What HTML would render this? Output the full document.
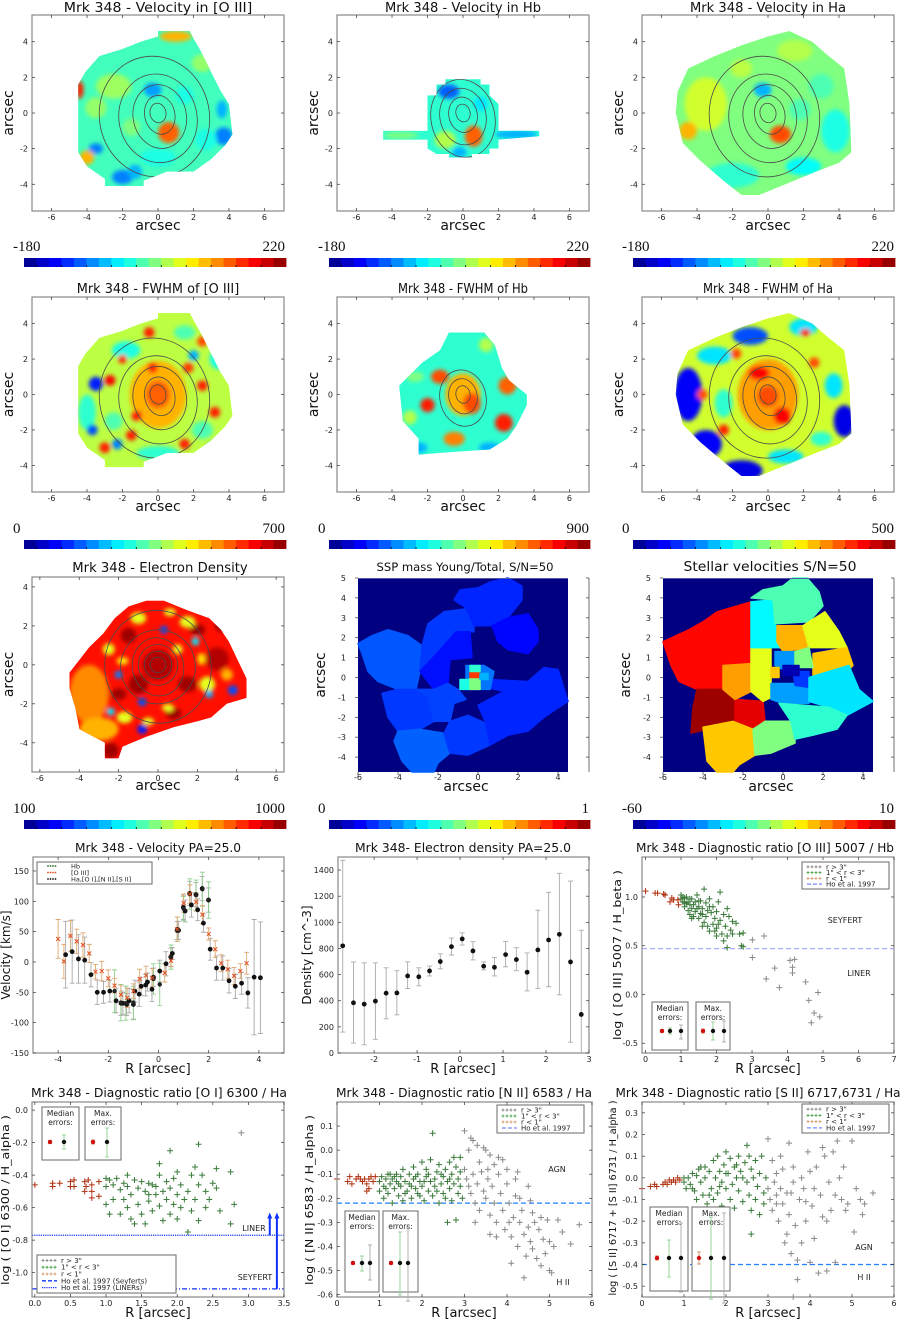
<!DOCTYPE html>
<html><head><meta charset="utf-8">
<style>
html,body{margin:0;padding:0;background:#fff;}
svg{display:block;font-family:"DejaVu Sans","Liberation Sans",sans-serif;}
</style></head>
<body>
<svg id="fig" width="902" height="1319" viewBox="0 0 902 1319" xmlns="http://www.w3.org/2000/svg">
<defs id="defs">
<filter id="blur" x="-20%" y="-20%" width="140%" height="140%"><feGaussianBlur stdDeviation="2.2"/></filter>
</defs>
</svg>
<script>
// ---------------- DATA ----------------
const velR=[-3.7,-3.44,-3.19,-2.94,-2.69,-2.44,-2.19,-1.94,-1.69,-1.49,-1.42,-1.27,-1.17,-1.0,-0.94,-0.77,-0.69,-0.51,-0.44,-0.26,-0.2,0.05,0.3,0.49,0.55,0.74,0.8,0.99,1.06,1.24,1.31,1.49,1.56,1.74,1.79,1.99,2.06,2.31,2.56,2.81,3.06,3.31,3.56,3.81,4.06];
const velV=[12,17,5,3,-21,-50,-50,-48,-64,-68,-68,-70,-64,-70,-48,-53,-40,-38,-33,-45,-25,-15,-3,8,14,52,52,90,84,113,94,111,86,121,64,102,21,-10,-10,-31,-40,-35,-51,-25,-26];
const velE=[55,52,40,38,20,20,18,18,20,20,18,18,20,25,18,20,15,18,15,20,15,18,20,15,10,15,15,20,18,20,20,20,18,20,15,20,18,20,20,20,20,18,25,95,92];
const hbR=[-1.75,-1.5,-1.3,-1.0,-0.2,0.05,0.5,0.75,1.0,1.25,1.5,1.75,2.0];
const hbV=[-48,-67,-68,-67,-28,-37,8,54,88,112,110,120,102];
const hbE=[35,30,28,27,25,35,20,20,20,25,25,28,30];
const o3R=[-4.0,-3.77,-3.51,-3.26,-3.01,-2.76,-2.51,-2.26,-2.0,-1.75,-1.5,-1.25,-1.0,-0.75,-0.5,-0.25,0.25,0.5,0.75,1.0,1.25,1.5,1.75,2.0,2.26,2.5,2.76,3.01,3.26,3.51];
const o3V=[38,1,43,34,28,14,-16,-15,-27,-39,-54,-59,-48,-28,-22,-26,-18,2,54,97,112,99,78,46,21,-2,-12,-23,-15,-2];
const o3E=[32,28,25,20,20,15,12,16,14,12,16,16,12,16,15,15,15,10,20,15,15,15,15,10,14,14,15,14,12,18];
const denR=[-2.73,-2.48,-2.23,-1.97,-1.72,-1.47,-1.22,-0.96,-0.71,-0.46,-0.2,0.05,0.3,0.55,0.8,1.06,1.31,1.56,1.81,2.06,2.31,2.57,2.82];
const denV=[820,384,374,397,458,460,590,583,628,700,814,873,781,664,656,753,715,618,789,865,908,697,295];
const denHi=[1475,697,690,690,652,630,698,652,665,758,880,920,852,697,730,853,806,766,1093,1230,1375,1316,940];
const denLo=[160,76,63,105,262,292,493,514,590,644,750,826,712,636,590,660,630,475,494,507,445,83,0];
const o3hbIn=[[0,1.06],[0.27,1.04],[0.34,1.04],[0.51,1.03],[0.55,1.02],[0.74,0.99],[0.79,0.97],[0.91,0.97],[0.93,0.92],[0.69,0.95]];
const o3hbMid=[[1.0,1.02],[1.0,0.98],[1.05,0.95],[1.1,0.9],[1.1,0.99],[1.15,1.0],[1.2,0.95],[1.2,0.86],[1.25,0.82],[1.25,0.92],[1.3,0.98],[1.3,0.88],[1.35,0.8],[1.4,0.95],[1.4,0.85],[1.45,1.02],[1.5,0.9],[1.5,0.78],[1.55,0.96],[1.55,0.83],[1.6,0.88],[1.6,0.7],[1.65,0.74],[1.65,1.08],[1.7,0.94],[1.7,0.8],[1.75,0.86],[1.8,0.65],[1.8,0.98],[1.85,0.84],[1.9,0.72],[1.9,0.9],[1.95,0.78],[2.0,0.6],[2.0,0.85],[2.0,0.68],[2.05,0.95],[2.1,0.76],[2.1,1.05],[2.15,0.62],[2.2,0.82],[2.2,0.55],[2.25,0.7],[2.3,0.88],[2.3,0.6],[2.35,0.8],[2.4,0.66],[2.45,0.75],[2.45,0.62],[2.55,0.73],[2.65,0.62],[2.7,0.5],[2.75,0.63],[2.3,0.48],[2.75,0.49],[1.1,0.94],[1.35,0.92],[1.05,1.0],[1.15,0.93],[1.45,0.88],[1.25,0.98],[1.8,0.9],[1.6,0.82],[1.3,0.78],[1.75,0.7],[1.95,0.65],[2.05,0.72],[1.5,0.96]];
const o3hbOut=[[3.01,0.56],[3.34,0.6],[3.01,0.38],[3.64,0.27],[3.4,0.16],[3.77,0.07],[4.07,0.35],[4.2,0.36],[4.14,0.28],[4.14,0.22],[4.51,0.13],[4.6,-0.06],[4.86,0.02],[4.75,-0.19],[4.67,-0.29],[4.91,-0.23]];
const o3hbHo=[0.47];
const o1In=[[0,-0.46],[0.25,-0.45],[0.35,-0.45],[0.5,-0.44],[0.55,-0.43],[0.5,-0.47],[0.55,-0.47],[0.7,-0.44],[0.72,-0.47],[0.75,-0.43],[0.8,-0.46],[0.8,-0.5],[0.8,-0.54],[0.9,-0.44],[0.9,-0.53],[0.7,-0.5],[0.25,-0.47]];
const o1Mid=[[1.0,-0.42],[1.0,-0.47],[1.0,-0.58],[1.05,-0.43],[1.05,-0.64],[1.1,-0.46],[1.15,-0.42],[1.2,-0.49],[1.2,-0.64],[1.25,-0.45],[1.25,-0.55],[1.3,-0.47],[1.3,-0.6],[1.35,-0.52],[1.35,-0.67],[1.4,-0.43],[1.4,-0.7],[1.45,-0.48],[1.45,-0.58],[1.5,-0.44],[1.5,-0.64],[1.55,-0.5],[1.55,-0.7],[1.6,-0.45],[1.6,-0.56],[1.65,-0.62],[1.7,-0.47],[1.7,-0.52],[1.75,-0.59],[1.75,-0.4],[1.75,-0.33],[1.8,-0.5],[1.8,-0.68],[1.85,-0.55],[1.85,-0.44],[1.9,-0.25],[1.9,-0.48],[1.9,-0.64],[1.95,-0.58],[1.95,-0.42],[2.0,-0.52],[2.0,-0.38],[2.05,-0.6],[2.05,-0.46],[2.1,-0.55],[2.15,-0.5],[2.15,-0.75],[2.2,-0.4],[2.2,-0.62],[2.25,-0.35],[2.25,-0.55],[2.3,-0.21],[2.3,-0.46],[2.3,-0.68],[2.35,-0.4],[2.4,-0.5],[2.4,-0.6],[2.5,-0.45],[2.55,-0.36],[2.55,-0.48],[2.6,-0.62],[2.75,-0.38],[2.75,-0.7],[2.8,-0.58],[1.1,-0.55],[1.6,-0.52],[2.0,-0.67],[1.3,-0.4],[1.65,-0.46],[2.45,-0.55]];
const o1Out=[[2.9,-0.14]];
const o1Liner=[-0.77];
const o1Seyf=[-1.1];
const n2In=[[0,-0.12],[0.25,-0.13],[0.3,-0.11],[0.35,-0.14],[0.45,-0.12],[0.5,-0.11],[0.55,-0.12],[0.6,-0.13],[0.65,-0.12],[0.7,-0.14],[0.75,-0.12],[0.75,-0.16],[0.8,-0.11],[0.85,-0.13],[0.9,-0.11],[0.7,-0.17]];
const n2Mid=[[1.0,-0.13],[1.0,-0.17],[1.05,-0.11],[1.1,-0.15],[1.1,-0.2],[1.15,-0.12],[1.2,-0.18],[1.2,-0.1],[1.25,-0.14],[1.3,-0.12],[1.3,-0.22],[1.35,-0.16],[1.4,-0.1],[1.4,-0.13],[1.45,-0.19],[1.5,-0.11],[1.5,-0.15],[1.55,-0.08],[1.55,-0.21],[1.6,-0.13],[1.65,-0.17],[1.7,-0.1],[1.7,-0.14],[1.75,-0.2],[1.8,-0.12],[1.8,-0.07],[1.85,-0.16],[1.9,-0.1],[1.9,-0.18],[1.95,-0.13],[2.0,-0.05],[2.0,-0.15],[2.05,-0.21],[2.1,-0.11],[2.1,-0.08],[2.15,-0.17],[2.2,-0.13],[2.2,-0.04],[2.25,0.07],[2.25,-0.19],[2.3,-0.12],[2.3,-0.15],[2.35,-0.09],[2.4,-0.22],[2.4,-0.06],[2.45,-0.14],[2.5,-0.11],[2.5,-0.18],[2.55,-0.08],[2.55,-0.2],[2.6,-0.13],[2.6,-0.3],[2.65,-0.05],[2.65,-0.16],[2.7,-0.1],[2.7,-0.21],[2.75,-0.03],[2.75,-0.14],[2.8,-0.29],[2.8,-0.07],[2.85,-0.12],[2.85,-0.18],[2.9,-0.09],[2.9,-0.15],[2.95,-0.2],[1.15,-0.16],[1.35,-0.11],[1.6,-0.18],[1.85,-0.11],[2.05,-0.13],[2.35,-0.17],[2.45,-0.1],[1.25,-0.1],[1.45,-0.14],[1.75,-0.15],[1.95,-0.19],[2.15,-0.1],[2.65,-0.12],[2.9,-0.03]];
const n2Out=[[3.0,0.08],[3.1,0.0],[3.15,0.05],[3.2,0.04],[3.3,0.02],[3.5,0.0],[3.6,-0.02],[3.0,-0.08],[3.05,-0.12],[3.1,-0.15],[3.15,-0.18],[3.2,-0.1],[3.25,-0.22],[3.3,-0.14],[3.35,-0.25],[3.4,-0.09],[3.45,-0.17],[3.5,-0.2],[3.55,-0.12],[3.6,-0.27],[3.65,-0.15],[3.7,-0.06],[3.7,-0.22],[3.75,-0.3],[3.8,-0.1],[3.85,-0.18],[3.9,-0.25],[3.9,-0.04],[3.95,-0.33],[4.0,-0.14],[4.05,-0.22],[4.1,-0.36],[4.15,-0.28],[4.2,-0.19],[4.25,-0.4],[4.3,-0.3],[4.35,-0.25],[4.4,-0.35],[4.45,-0.44],[4.5,-0.32],[4.55,-0.38],[4.6,-0.41],[4.65,-0.3],[4.7,-0.45],[4.75,-0.33],[4.8,-0.48],[4.85,-0.37],[4.9,-0.43],[4.95,-0.29],[5.0,-0.38],[5.05,-0.51],[5.1,-0.4],[5.2,-0.29],[5.3,-0.34],[5.5,-0.39],[5.7,-0.31],[4.5,-0.15],[4.2,-0.12],[4.0,-0.08],[4.3,-0.2],[3.35,-0.05],[3.45,0.01],[3.55,-0.08],[3.8,-0.03],[3.6,-0.35],[4.1,-0.47],[4.6,-0.26],[4.4,-0.53],[4.8,-0.28],[5.0,-0.5],[4.25,-0.09],[4.55,-0.21],[3.25,-0.3],[3.75,-0.36],[4.05,-0.3]];
const n2Ho=[-0.22];
const s2In=[[0.0,-0.05],[0.2,-0.04],[0.3,-0.03],[0.35,-0.04],[0.5,-0.03],[0.55,-0.02],[0.65,-0.01],[0.7,-0.02],[0.75,-0.01],[0.8,-0.02],[0.85,0.0],[0.9,-0.01],[0.6,-0.03]];
const s2Mid=[[1.0,-0.02],[1.0,0.0],[1.05,-0.05],[1.1,0.0],[1.15,-0.03],[1.2,0.02],[1.25,-0.06],[1.3,0.01],[1.3,-0.1],[1.35,0.04],[1.4,-0.02],[1.45,-0.08],[1.5,0.05],[1.5,0.0],[1.55,-0.12],[1.6,0.03],[1.65,-0.05],[1.7,0.08],[1.7,-0.1],[1.75,0.0],[1.8,-0.07],[1.8,0.1],[1.85,0.03],[1.9,-0.13],[1.9,-0.02],[1.95,0.06],[2.0,0.12],[2.0,-0.05],[2.05,0.02],[2.1,-0.1],[2.1,0.09],[2.15,-0.03],[2.2,0.05],[2.2,-0.14],[2.25,0.0],[2.3,0.1],[2.3,-0.06],[2.35,0.03],[2.4,-0.11],[2.45,0.07],[2.5,0.15],[2.5,-0.02],[2.55,-0.08],[2.6,0.04],[2.6,-0.15],[2.65,0.0],[2.7,0.08],[2.7,-0.1],[2.75,-0.04],[2.8,0.02],[2.8,-0.17],[2.85,0.1],[2.9,-0.07],[2.9,-0.12],[2.95,0.0],[2.6,-0.26],[1.4,0.05],[1.6,-0.08],[2.0,0.02],[2.4,0.0],[1.2,-0.05],[1.85,-0.04],[2.25,0.06],[2.55,0.1]];
const s2Out=[[3.0,0.18],[3.1,0.08],[3.2,0.02],[3.3,0.1],[3.5,0.16],[3.6,0.05],[3.0,-0.05],[3.05,-0.1],[3.1,-0.15],[3.15,-0.02],[3.2,-0.08],[3.25,-0.2],[3.3,-0.05],[3.35,-0.12],[3.4,-0.3],[3.45,-0.07],[3.5,-0.17],[3.55,-0.35],[3.6,-0.02],[3.65,-0.22],[3.7,-0.47],[3.75,-0.1],[3.8,-0.3],[3.85,-0.05],[3.9,-0.2],[3.95,0.12],[4.0,-0.39],[4.05,-0.13],[4.1,-0.28],[4.15,0.05],[4.2,-0.44],[4.25,-0.08],[4.3,-0.18],[4.35,0.1],[4.4,-0.43],[4.45,-0.02],[4.5,-0.15],[4.55,0.12],[4.6,-0.39],[4.65,0.17],[4.7,0.0],[4.75,-0.1],[4.8,0.05],[4.9,-0.12],[5.0,0.17],[5.05,-0.25],[5.1,-0.05],[5.2,-0.1],[5.3,-0.12],[5.5,-0.07],[3.6,-0.55],[3.7,-0.38],[4.0,0.03],[4.3,0.14],[3.35,0.04],[3.9,-0.11],[4.1,-0.05],[4.6,-0.08],[4.85,-0.15],[3.45,-0.26],[3.2,-0.12],[3.8,0.0],[4.4,-0.2],[5.25,-0.17],[3.55,-0.07]];
const s2Ho=[-0.4];

// ---------------- HELPERS ----------------
const NS='http://www.w3.org/2000/svg';
const svg=document.getElementById('fig');
const defs=document.getElementById('defs');
function el(tag,attrs,parent,name,inter){
  const e=document.createElementNS(NS,tag);
  for(const k in attrs)e.setAttribute(k,attrs[k]);
  
  
  (parent||svg).appendChild(e);return e;
}
function txt(s,x,y,attrs,parent,name){const t=el('text',Object.assign({x:x,y:y},attrs||{}),parent,name,false);t.textContent=s;return t;}
function lin(d0,d1,r0,r1){return v=>r0+(v-d0)/(d1-d0)*(r1-r0);}
function cl(v){return Math.max(0,Math.min(1,v));}
function jet(t){const r=cl(1.5-Math.abs(4*t-3)),g=cl(1.5-Math.abs(4*t-2)),b=cl(1.5-Math.abs(4*t-1));
  return 'rgb('+Math.round(r*255)+','+Math.round(g*255)+','+Math.round(b*255)+')';}
function range(a,b,s){const o=[];for(let v=a;v<=b+1e-9;v+=s)o.push(+v.toFixed(6));return o;}

function makeAxes(name,box,xd,yd){
  const [L,T,R,B]=box;
  const g=el('g',{},svg,name,false);
  return {g:g,box:box,sx:lin(xd[0],xd[1],L,R),sy:lin(yd[0],yd[1],B,T)};
}
function frame(ax,xt,yt,dx,dy,opt){
  opt=opt||{};
  const [L,T,R,B]=ax.box;
  el('rect',{x:L,y:T,width:R-L,height:B-T,fill:'none',stroke:'#888','stroke-width':1.2},ax.g,'plot-frame',false);
  xt.forEach(v=>{const x=ax.sx(v);
    el('line',{x1:x,y1:B,x2:x,y2:B-3,stroke:'#333','stroke-width':0.7},ax.g,'x-tick',false);
    el('line',{x1:x,y1:T,x2:x,y2:T+3,stroke:'#333','stroke-width':0.7},ax.g,'x-tick',false);
    txt(v.toFixed(dx),x,B+9,{'font-size':8,'text-anchor':'middle',fill:'#222'},ax.g,'x-tick-label');});
  yt.forEach(v=>{const y=ax.sy(v);
    el('line',{x1:L,y1:y,x2:L+3,y2:y,stroke:'#333','stroke-width':0.7},ax.g,'y-tick',false);
    el('line',{x1:R,y1:y,x2:R-3,y2:y,stroke:'#333','stroke-width':0.7},ax.g,'y-tick',false);
    txt(v.toFixed(dy),L-4,y+3,{'font-size':8,'text-anchor':'end',fill:'#222'},ax.g,'y-tick-label');});
}
function title(s,cx,y,w,fs,name){txt(s,cx,y,{'font-size':fs,'text-anchor':'middle',fill:'#111',textLength:w,lengthAdjust:'spacingAndGlyphs'},svg,name);}
function ylab(s,x,cy,fs,name,w){const t=txt(s,x,cy,{'font-size':fs,'text-anchor':'middle',fill:'#111',transform:'rotate(-90 '+x+' '+cy+')'},svg,name);if(w){t.setAttribute('textLength',w);t.setAttribute('lengthAdjust','spacingAndGlyphs');}}
function xlab(s,cx,y,fs,name){txt(s,cx,y,{'font-size':fs,'text-anchor':'middle',fill:'#111'},svg,name);}
function colorbar(x0,x1,y,lo,hi,name){
  const g=el('g',{},svg,name,false);
  const n=21,w=(x1-x0)/n;
  for(let i=0;i<n;i++){
    el('rect',{x:x0+i*w,y:y,width:w+0.4,height:9,fill:jet((i+0.5)/n)},g,'colorbar-swatch',false);
    if(i%2==1)el('line',{x1:x0+i*w,y1:y+9,x2:x0+i*w,y2:y+7,stroke:'#000','stroke-width':0.8},g,'colorbar-tick',false);
  }
  txt(lo,x0-11,y-7,{'font-size':15,'font-family':'"Liberation Serif",serif',fill:'#111'},g,'colorbar-min-label');
  txt(hi,x1-1,y-7,{'font-size':15,'font-family':'"Liberation Serif",serif','text-anchor':'end',fill:'#111'},g,'colorbar-max-label');
}
let clipN=0;
function pathOf(ax,pts){return 'M'+pts.map(p=>ax.sx(p[0]).toFixed(1)+','+ax.sy(p[1]).toFixed(1)).join('L')+'Z';}
function contMap(ax,foot,base,blobs,conts,name){
  const id='clip'+(clipN++);
  const cp=el('clipPath',{id:id},defs,'clip-'+name,false);
  el('path',{d:pathOf(ax,foot)},cp,'clip-shape',false);
  const g=el('g',{'clip-path':'url(#'+id+')'},ax.g,name,false);
  el('path',{d:pathOf(ax,foot),fill:jet(base)},g,'map-footprint',false);
  const bg=el('g',{filter:'url(#blur)'},g,'map-blobs',false);
  const kx=Math.abs(ax.sx(1)-ax.sx(0)),ky=Math.abs(ax.sy(1)-ax.sy(0));
  blobs.forEach(b=>{el('ellipse',{cx:ax.sx(b[0]),cy:ax.sy(b[1]),rx:b[2]*kx,ry:b[3]*ky,fill:jet(b[4])},bg,'map-blob',false);});
  conts.forEach(c=>{const cx=ax.sx(c[0]),cy=ax.sy(c[1]);
    el('ellipse',{cx:cx,cy:cy,rx:c[2]*kx,ry:c[3]*ky,fill:'none',stroke:'#4a4a4a','stroke-width':0.8,transform:'rotate(-12 '+cx+' '+cy+')'},g,'flux-contour',false);});
}
function tileMap(ax,ext,tiles,name){
  const g=el('g',{},ax.g,name,false);
  el('rect',{x:ax.sx(ext[0]),y:ax.sy(ext[3]),width:ax.sx(ext[1])-ax.sx(ext[0]),height:ax.sy(ext[2])-ax.sy(ext[3]),fill:jet(0)},g,'map-background',false);
  tiles.forEach(t=>{el('path',{d:pathOf(ax,t[0]),fill:jet(t[1]),stroke:jet(t[1]),'stroke-width':1.5,'stroke-linejoin':'round'},g,'map-bin',false);});
}
function plus(ax,pts,col,name,sz){
  const g=el('g',{},ax.g,name,false);sz=sz||3;
  pts.forEach(p=>{const x=ax.sx(p[0]),y=ax.sy(p[1]);
    el('path',{d:'M'+(x-sz)+','+y+'h'+2*sz+'M'+x+','+(y-sz)+'v'+2*sz,stroke:col,'stroke-width':1},g,'data-point',false);});
}
function hline(ax,v,col,dash,name){
  const [L,T,R,B]=ax.box;const y=ax.sy(v);
  el('line',{x1:L,y1:y,x2:R,y2:y,stroke:col,'stroke-width':1.3,'stroke-dasharray':dash},ax.g,name,false);
}
function errBox(x0,y0,x1,y1,lab1,lab2,dotY,dots,name){
  const g=el('g',{},svg,name,false);
  el('rect',{x:x0,y:y0,width:x1-x0,height:y1-y0,fill:'#fff',stroke:'#777','stroke-width':1.1},g,'error-box-frame',false);
  txt(lab1,(x0+x1)/2,y0+9,{'font-size':7.5,'text-anchor':'middle',fill:'#222'},g,'error-box-label');
  txt(lab2,(x0+x1)/2,y0+18,{'font-size':7.5,'text-anchor':'middle',fill:'#222'},g,'error-box-label');
  dots.forEach(d=>{
    if(d[2]>0){el('line',{x1:d[0],y1:dotY-d[2],x2:d[0],y2:dotY+d[3],stroke:d[4],'stroke-width':0.9},g,'error-bar',false);
      el('line',{x1:d[0]-2,y1:dotY-d[2],x2:d[0]+2,y2:dotY-d[2],stroke:d[4],'stroke-width':0.9},g,'error-cap',false);
      el('line',{x1:d[0]-2,y1:dotY+d[3],x2:d[0]+2,y2:dotY+d[3],stroke:d[4],'stroke-width':0.9},g,'error-cap',false);}
    el('circle',{cx:d[0],cy:dotY,r:2.2,fill:d[1]},g,'error-dot',false);
  });
}
function legend(x0,y0,x1,y1,items,name){
  const g=el('g',{},svg,name,false);
  el('rect',{x:x0,y:y0,width:x1-x0,height:y1-y0,fill:'#fff',stroke:'#777','stroke-width':1.1},g,'legend-frame',false);
  const h=(y1-y0-4)/items.length;
  items.forEach((it,i)=>{const y=y0+2+h*(i+0.5);
    if(it[1]=='line'){el('line',{x1:x0+5,y1:y,x2:x0+20,y2:y,stroke:it[2],'stroke-width':1.3,'stroke-dasharray':it[3]},g,'legend-line',false);}
    else{for(let k=0;k<4;k++){const x=x0+6+k*4;el('path',{d:'M'+(x-1.5)+','+y+'h3M'+x+','+(y-1.5)+'v3',stroke:it[2],'stroke-width':0.8},g,'legend-marker',false);}}
    txt(it[0],x0+24,y+2.5,{'font-size':7,fill:'#222'},g,'legend-entry');
  });
}

// ---------------- ROWS 1-3: maps ----------------
const mapX=[-7.1,7.1],mapY=[-5.5,5.5];
const cols=[[32,284],[337,589],[642,894]];
const cbar=[[24,286],[329,590],[633,895]];
const tk6=range(-6,6,2),tk4=range(-4,4,2);
function mapPanel(ci,row,ttl,foot,base,blobs,conts,lo,hi,nm){
  const top=[15,297,577][row],bot=[211,492,772][row];
  const yd=row==2?[-5.5,4.51]:mapY, xd=row==2?[-6.4,6.4]:mapX;
  const ax=makeAxes(nm+'-axes',[cols[ci][0],top,cols[ci][1],bot],xd,yd);
  contMap(ax,foot,base,blobs,conts,nm+'-map');
  frame(ax,tk6,tk4,0,0);
  const cx=(cols[ci][0]+cols[ci][1])/2;
  title(ttl,cx+(row==2?2:0),[12,293,572][row],ttl.length*6.5,13,nm+'-title');
  xlab('arcsec',cx,[230,511,790][row],14,nm+'-x-axis-title');
  ylab('arcsec',cols[ci][0]-19,(top+bot)/2,14,nm+'-y-axis-title');
  colorbar(cbar[ci][0],cbar[ci][1],[258,540,820][row],lo,hi,nm+'-colorbar');
}
const footO3=[[-4.5,1.6],[-4.1,2.3],[-3.3,3.2],[-2,3.6],[-1,4],[0,4.3],[0,4.6],[1.8,4.6],[2,4.2],[2.4,3.5],[3,2.3],[3.5,1.3],[4,0.5],[4.2,-1.2],[3.8,-1.8],[3,-2.6],[2,-3.3],[0.5,-3.3],[-0.8,-3.8],[-0.8,-4.1],[-3,-4.1],[-3,-3.7],[-4,-3],[-4.5,-2.2],[-4.5,-1.2]];
const footHa=[[-5.1,1.2],[-4.5,2.5],[-3,3.2],[-1.5,3.8],[0,4.3],[1.2,4.6],[2.5,4],[3.3,3.3],[4.3,2.5],[4.6,0.5],[4.7,-2.2],[4,-2.8],[2.7,-3.3],[1,-4],[-0.5,-4.6],[-1.5,-4.6],[-2.5,-3.8],[-3.8,-2.7],[-4.8,-1.7],[-5.2,0]];
const footHb=[[-2,1],[-1.5,1],[-1.5,1.6],[-1,1.6],[-1,1.9],[1,1.9],[1,1.6],[1.5,1.6],[1.5,1],[2,0.5],[2,-1.0],[4.3,-1.0],[4.3,-1.3],[2,-1.5],[2,-2],[1.5,-2],[1.5,-2.3],[0.5,-2.3],[0.5,-2.5],[-0.8,-2.5],[-0.8,-2.3],[-1.5,-2.3],[-2,-2],[-2,-1.5],[-4.5,-1.5],[-4.5,-1.0],[-2,-1.0]];
const contStd=[[0,0,0.45,0.55],[0.1,-0.1,0.85,1.1],[0.1,-0.2,1.5,1.8],[0,-0.3,2.2,2.5],[-0.2,-0.2,3.1,3.4]];
mapPanel(0,0,'Mrk 348 - Velocity in [O III]',footO3,0.44,
 [[0.6,-1.1,0.6,0.6,0.78],[-0.3,1.3,0.5,0.4,0.28],[3.7,-1.3,0.5,0.5,0.25],[3.6,0.2,0.3,0.5,0.3],[-2,-3.6,0.6,0.4,0.25],[-3.5,-2,0.4,0.3,0.25],[1,4.3,0.9,0.3,0.7],[-4.4,1.3,0.2,0.5,0.85],[-2.5,1.5,1,0.7,0.53],[-4,-2.5,0.4,0.4,0.7],[0,-2.5,1,0.5,0.4],[-1.3,-3.3,0.4,0.4,0.3],[-3.5,0.3,0.6,0.6,0.52],[2.5,2.8,0.6,0.5,0.52],[1.5,1,0.5,0.5,0.4],[2.7,-1.5,0.6,0.6,0.4],[-1.5,-0.8,0.5,0.5,0.5]],
 contStd,'-180','220','velocity-oiii');
mapPanel(1,0,'Mrk 348 - Velocity in Hb',footHb,0.42,
 [[0.6,-1.3,0.5,0.6,0.78],[-0.8,1.2,0.6,0.4,0.22],[3,-1.2,1.2,0.25,0.3],[-3.5,-1.25,1,0.2,0.5],[-1,-1.5,0.6,0.5,0.55],[1,0.5,0.4,0.4,0.35],[-0.2,-2.2,0.4,0.3,0.3]],
 [[0,0,0.4,0.5],[0,-0.1,0.8,1],[0,-0.2,1.3,1.6],[0,-0.3,1.8,2.2]],'-180','220','velocity-hb');
mapPanel(2,0,'Mrk 348 - Velocity in Ha',footHa,0.5,
 [[0.7,-1.2,0.6,0.5,0.8],[-0.3,1.3,0.5,0.4,0.3],[-3.5,0.5,1.2,1.5,0.58],[3.8,-1,0.8,1.2,0.4],[2,-3,1,0.5,0.38],[-2,-3.5,1.5,0.7,0.42],[1.5,3.5,1,0.6,0.55],[-4.5,-1,0.5,0.5,0.7],[3,1.5,0.7,0.7,0.45],[1.8,0.2,0.6,0.6,0.45],[-1.5,2.5,0.6,0.5,0.56]],
 contStd,'-180','220','velocity-ha');
mapPanel(0,1,'Mrk 348 - FWHM of [O III]',footO3,0.56,
 [[-1.8,2.5,0.8,0.5,0.4],[3.5,2,0.6,0.6,0.4],[0,-3.3,1.2,0.4,0.42],[-4,-1,0.5,1,0.42],[2.5,-2,0.6,0.5,0.45],[-2.5,-1.5,0.5,0.5,0.45],[1.5,3.5,0.6,0.4,0.45],[0,0,1.6,1.9,0.7],[0,0,0.7,0.8,0.78],[-0.3,1.5,0.3,0.3,0.85],[-3.5,0.6,0.4,0.4,0.15],[-3.7,-2,0.3,0.3,0.2],[3.2,-3,0.4,0.3,0.25],[2,2.2,0.3,0.3,0.3],[4,1.5,0.3,0.3,0.2],[-2.3,-2.8,0.3,0.3,0.25],[-2.7,0.8,0.3,0.3,0.88],[2.5,0.5,0.3,0.3,0.85],[-1.5,-2.3,0.3,0.3,0.85],[1.5,-2.8,0.3,0.3,0.85],[3.2,-1,0.3,0.3,0.85],[-3,-3,0.3,0.3,0.85],[-0.5,3.5,0.3,0.3,0.85],[2.5,3,0.3,0.3,0.8],[-1.2,-1.2,0.3,0.3,0.85],[1.7,1.5,0.3,0.3,0.82],[-2,2,0.25,0.25,0.85]],
 contStd,'0','700','fwhm-oiii');
mapPanel(1,1,'Mrk 348 - FWHM of Hb',[[-3.6,0.5],[-2.3,1.8],[-1.3,2.5],[-0.8,3.5],[1.2,3.5],[1.8,2.8],[2.2,1.5],[2.6,0.8],[3.6,0],[3.6,-0.6],[3,-1.8],[2.5,-2.5],[1.5,-3.1],[-1.3,-3.3],[-2.5,-3.4],[-2.5,-2.5],[-3.4,-1.5]],0.42,
 [[-2.5,-3,0.5,0.3,0.3],[1.5,-3,0.6,0.3,0.3],[-2.7,1,0.5,0.3,0.5],[1.3,2.8,0.4,0.4,0.55],[-3,-1.3,0.4,0.4,0.55],[0,0,1,1.2,0.7],[0.5,-0.5,0.5,0.6,0.8],[-1.3,1,0.5,0.4,0.8],[-2,-0.6,0.4,0.4,0.85],[2.3,-1.6,0.5,0.5,0.85],[2.5,0.5,0.5,0.5,0.78],[-0.5,-2.5,0.6,0.4,0.75]],
 [[0,0,0.4,0.5],[0,-0.1,0.8,1],[0,-0.2,1.3,1.6]],'0','900','fwhm-hb');
mapPanel(2,1,'Mrk 348 - FWHM of Ha',footHa,0.58,
 [[-4.5,0,0.8,1.5,0.12],[-3.5,-2.8,0.9,0.8,0.12],[-1.5,-4.3,1.2,0.6,0.1],[4.3,-1.5,0.6,0.9,0.1],[-1,3.3,1,0.5,0.2],[2,3.8,0.8,0.5,0.35],[-3,2.2,1,0.5,0.35],[3.7,0.5,0.5,0.7,0.35],[1,-3.5,1,0.4,0.35],[-2.5,-0.5,0.5,0.8,0.42],[3,-2.5,0.6,0.4,0.42],[0,0,1.7,2,0.72],[-0.5,1.2,0.6,0.4,0.88],[0.8,-1.2,0.5,0.5,0.88],[0,-0.1,0.6,0.6,0.8],[2.1,3.5,0.3,0.2,0.88],[-2.5,-2,0.3,0.3,0.85],[-3.7,0,0.3,0.3,0.8],[2.6,1.8,0.3,0.3,0.8],[-1.8,2.3,0.3,0.3,0.8]],
 contStd,'0','500','fwhm-ha');
mapPanel(0,2,'Mrk 348 -  Electron Density',[[-4.5,-1.2],[-4.5,-0.4],[-3.5,0.9],[-2.8,1.6],[-2.2,2.4],[-1.5,3],[-0.6,3.3],[0.3,3.3],[1.5,2.8],[2.6,2.4],[3.2,1.8],[3.6,1.2],[4.5,-0.7],[4.5,-1.7],[3.5,-2],[2.7,-2.7],[2,-2.9],[0.8,-3.2],[-0.6,-3.7],[-1.8,-4.2],[-2,-4.8],[-2.7,-4.8],[-2.7,-4],[-4,-3.3],[-4.2,-2.2]],0.86,
 [[-3.5,-1.5,1,1.5,0.74],[-3,-3.3,1,0.6,0.7],[0,0,0.8,0.8,0.95],[3,0.3,0.6,0.6,0.95],[-2.4,-4.4,0.4,0.4,0.97],
  [-1.5,1.5,0.4,0.4,0.97],[1.5,-1,0.5,0.4,0.97],[-1,-1,0.5,0.5,0.97],[2,1.8,0.4,0.3,0.97],[3.2,2,0.3,0.3,0.97],[-2,-1.5,0.4,0.3,0.97],[0.8,-2.5,0.4,0.3,0.97],
  [1.5,2.2,0.4,0.3,0.6],[-1.7,-2.7,0.4,0.3,0.6],[2.5,-1,0.4,0.4,0.6],[-1,2.4,0.4,0.3,0.6],[-2.5,0.8,0.3,0.3,0.6],[1,0.8,0.25,0.25,0.6],[-3,2,0.3,0.3,0.6],[0.5,-2.2,0.3,0.2,0.6],[2.2,0.3,0.2,0.3,0.65],[-1.8,0.2,0.3,0.2,0.65],[3.5,-0.5,0.3,0.3,0.7],[0.6,2.7,0.3,0.2,0.6],[-0.5,-2.9,0.3,0.2,0.6],
  [-0.8,-3.3,0.25,0.25,0.15],[3.8,-1.3,0.25,0.25,0.2],[0.3,1.8,0.2,0.2,0.2],[-0.8,-1.9,0.22,0.22,0.2],[-2,-0.5,0.2,0.2,0.25],[2.6,-1.5,0.2,0.2,0.3],[1.9,1.2,0.2,0.2,0.35],[-2.4,-2.4,0.2,0.2,0.35]],
 [[0,0,0.4,0.4],[0,0,0.7,0.7],[0,0,1,1.05],[0,-0.1,1.3,1.5],[0,-0.1,1.9,1.9],[0,-0.1,2.7,2.9]],'100','1000','density-map');

function tilePanel(ci,ttl,tiles,lo,hi,nm){
  const ix=[[358,568],[663,873]][ci-1];
  const ax=makeAxes(nm+'-axes',[ix[0],578,ix[1],772],[-6,4.5],[-4.75,5]);
  tileMap(ax,[-6,4.5,-4.75,5],tiles,nm+'-map');
  el('line',{x1:ix[0],y1:578.5,x2:ix[1],y2:578.5,stroke:'#55a','stroke-width':1},ax.g,'image-top-edge',false);
  const rx=cols[ci][1];
  el('line',{x1:rx,y1:578,x2:rx,y2:772,stroke:'#888','stroke-width':1.2},ax.g,'right-spine',false);
  range(-6,4,2).forEach(v=>{const x=ax.sx(v);el('line',{x1:x,y1:772,x2:x,y2:775,stroke:'#333','stroke-width':0.7},ax.g,'x-tick',false);
    txt(v.toFixed(0),x,780,{'font-size':8,'text-anchor':'middle',fill:'#222'},ax.g,'x-tick-label');});
  range(-4,5,1).forEach(v=>{const y=ax.sy(v);el('line',{x1:ix[0]-3,y1:y,x2:ix[0],y2:y,stroke:'#333','stroke-width':0.7},ax.g,'y-tick',false);
    el('line',{x1:rx-3,y1:y,x2:rx,y2:y,stroke:'#333','stroke-width':0.7},ax.g,'y-tick',false);
    txt(v.toFixed(0),ix[0]-12,y+3,{'font-size':8,'text-anchor':'end',fill:'#222'},ax.g,'y-tick-label');});
  title(ttl,(ix[0]+ix[1])/2+2,571,ci==1?177:173,ci==1?11.5:13,nm+'-title');
  xlab('arcsec',(ix[0]+ix[1])/2+3,791,14,nm+'-x-axis-title');
  ylab('arcsec',ix[0]-33,675,14,nm+'-y-axis-title');
  colorbar(cbar[ci][0],cbar[ci][1],820,lo,hi,nm+'-colorbar');
}
tilePanel(1,'SSP mass Young/Total, S/N=50',[
 [[[-6,1.7],[-5.3,2.1],[-4.5,2.4],[-3.5,2.1],[-2.8,1.6],[-2.9,0.3],[-3.1,-0.6],[-4,-0.6],[-5,-0.2],[-5.5,0.3],[-5.8,1.2]],0.21],
 [[[-4,-0.6],[-3.1,-0.6],[-2.5,-0.9],[-2.2,-2.2],[-2.9,-2.6],[-4,-2.7],[-4.5,-2],[-4.8,-0.8]],0.18],
 [[[-4,-2.7],[-2.9,-2.6],[-1.7,-2.8],[-1.4,-3.8],[-2,-4.3],[-2.2,-4.75],[-3.3,-4.75],[-3.8,-4.2],[-4.2,-3.2]],0.22],
 [[[-2.8,1.6],[-2.5,2.7],[-1.7,3.3],[-0.2,3.5],[-0.2,2.3],[-1.1,2.3],[-1.7,1.6],[-2.9,0.3]],0.18],
 [[[-2.9,0.3],[-1.7,1.6],[-1.1,2.3],[-0.4,2.3],[-0.3,1],[-1.4,0.9],[-1.5,-0.3],[-2.2,-0.6]],0.14],
 [[[-3.1,-0.6],[-2.2,-0.6],[-1.5,-0.3],[-1,-0.6],[-0.6,-1.1],[-1.2,-1.3],[-1.4,-2.2],[-2.2,-2.2],[-2.5,-0.9]],0.19],
 [[[-1.4,-2.2],[-0.5,-1.9],[0.4,-2.3],[0.6,-3.4],[-0.5,-3.9],[-1.4,-3.8],[-1.7,-2.8]],0.18],
 [[[-1.2,3.9],[-0.9,4.4],[0,4.5],[0.6,4.8],[1.5,5],[2.2,4.6],[2.2,3.9],[1.5,3],[0.7,2.6],[-0.2,2.6],[-0.6,3.5]],0.16],
 [[[0.7,2.6],[1.5,3],[2.5,3.2],[3,2.4],[3,1.8],[2.5,1.2],[1.5,1.4],[1,1.8]],0.13],
 [[[0.6,-0.1],[2.5,-0.2],[3.3,0.5],[4,0.4],[4.5,-1.2],[3.3,-2],[2.2,-1.2],[1.3,-0.7],[0.4,-0.5]],0.16],
 [[[0,-1.4],[1.3,-0.7],[2.2,-1.2],[3.3,-2],[2.5,-2.7],[1.5,-2.9],[0.6,-3.4],[0.4,-2.3]],0.16],
 [[[-0.6,0.6],[0.3,0.6],[0.8,0.3],[0.6,-0.6],[-0.6,-0.6]],0.24],
 [[[-0.9,-0.1],[-0.4,-0.1],[-0.4,-0.6],[-0.9,-0.6]],0.4],
 [[[-0.4,-0.6],[0.1,-0.6],[0.1,0],[-0.4,0]],0.5],
 [[[-0.4,0],[0.1,0],[0.1,0.3],[-0.4,0.3]],0.82],
 [[[-0.4,0.3],[0.1,0.3],[0.1,0.6],[-0.4,0.6]],0.42],
 [[[0.1,-0.1],[0.5,-0.1],[0.5,0.2],[0.1,0.2]],0.3]
],'0','1','ssp-young-fraction');
tilePanel(2,'Stellar velocities S/N=50',[
 [[[-6,1.8],[-4.7,2.4],[-4,2.8],[-3.3,3.3],[-1.6,3.8],[-1.6,1.5],[-1.3,0.8],[-3,0.6],[-3,-0.6],[-4.3,-0.6],[-5.2,-0.2],[-5.6,0.6]],0.87],
 [[[-4.3,-0.6],[-3,-0.6],[-2.4,-1.1],[-2.4,-2.1],[-3.3,-2.5],[-4.6,-2.8],[-4.5,-1.5]],0.97],
 [[[-2.4,-1.1],[-1,-1.2],[-0.9,-2.2],[-1.5,-2.6],[-2.4,-2.4]],0.9],
 [[[-3,0.6],[-1.6,0.7],[-1.6,-0.7],[-2.4,-1.1],[-3,-0.6]],0.72],
 [[[-4,-2.5],[-2.5,-2.2],[-1.5,-2.6],[-1.4,-3.9],[-2.2,-4.4],[-2.5,-4.75],[-3.3,-4.75],[-3.8,-4.2]],0.68],
 [[[-1.5,-2.6],[-0.9,-2.2],[0.6,-2.2],[0.6,-3.3],[-0.6,-3.8],[-1.4,-3.9]],0.5],
 [[[-1.6,1.5],[-0.6,1.5],[-0.6,0.3],[-0.6,-1],[-1,-1.2],[-1.6,-0.7]],0.6],
 [[[-1.6,3.8],[-0.5,3.9],[-0.4,2.7],[0,1.5],[-1.6,1.5]],0.37],
 [[[-1.6,4],[-1,4.4],[0,4.6],[0.5,5],[1.2,5],[1.8,4.3],[2,3.6],[1.3,2.8],[-0.4,2.7],[-0.5,3.9]],0.45],
 [[[-0.3,2.6],[1,2.6],[1.3,1.5],[0,1.3],[-0.3,1.8]],0.7],
 [[[1,2.6],[1.3,2.8],[2.1,3.3],[2.8,2.3],[3.2,1.5],[2,1.5],[1.3,1.5]],0.6],
 [[[1.5,1.2],[3.2,1.5],[3.5,0.6],[3,0.1],[1.5,0.1]],0.68],
 [[[-0.4,1.3],[0.6,1.3],[0.6,0.5],[0.2,0.3],[-0.4,0.6]],0.27],
 [[[0.6,1.3],[1.3,1.5],[1.5,0.5],[0.6,0.5]],0.5],
 [[[-0.6,-0.3],[0.5,-0.3],[1.3,-0.4],[1.3,-1.3],[0,-1.3],[-0.6,-1.1]],0.28],
 [[[0.5,0.3],[1.3,0.3],[1.3,-0.5],[0.6,-0.4]],0.18],
 [[[0,0.6],[0.8,0.6],[0.8,0.1],[0,0.1]],0.05],
 [[[1.3,0],[3.3,0.6],[3.8,-0.6],[4.5,-1.2],[3.2,-1.9],[2.3,-1.5],[1.3,-1.2]],0.35],
 [[[-0.2,-1.3],[2.3,-1.5],[3.2,-1.9],[2.7,-2.6],[1.5,-2.9],[0.6,-3.1],[0.4,-2.2]],0.42],
 [[[-0.6,0.5],[-0.2,0.5],[-0.2,0],[-0.6,0]],0.68]
],'-60','10','stellar-velocity');

// ---------------- ROW 4 ----------------
(function(){
  const ax=makeAxes('velocity-pa-axes',[33,857,284,1053],[-5,5],[-150,173]);
  const eb=(R,V,E,col,nm)=>{R.forEach((r,i)=>{const x=ax.sx(r),y1=ax.sy(V[i]+E[i]),y2=ax.sy(V[i]-E[i]);
    el('path',{d:'M'+x+','+y1+'V'+y2+'M'+(x-2.5)+','+y1+'h5M'+(x-2.5)+','+y2+'h5',stroke:col,'stroke-width':0.9,fill:'none'},ax.g,nm,false);});};
  eb(velR,velV,velE,'#a8a8a8','ha-error-bar');
  eb(hbR,hbV,hbE,'#8fd08f','hb-error-bar');
  eb(o3R,o3V,o3E,'#e0a870','oiii-error-bar');
  velR.forEach((r,i)=>{el('circle',{cx:ax.sx(r),cy:ax.sy(velV[i]),r:2.4,fill:'#111'},ax.g,'ha-point',false);});
  hbR.forEach((r,i)=>{el('circle',{cx:ax.sx(r),cy:ax.sy(hbV[i]),r:2.2,fill:'#222'},ax.g,'hb-point',false);});
  o3R.forEach((r,i)=>{const x=ax.sx(r),y=ax.sy(o3V[i]);
    el('path',{d:'M'+(x-2)+','+(y-2)+'l4,4M'+(x-2)+','+(y+2)+'l4,-4',stroke:'#e05020','stroke-width':1},ax.g,'oiii-point',false);});
  frame(ax,range(-4,4,2),range(-150,150,50),0,0);
  title('Mrk 348 - Velocity PA=25.0',158,852,166,12,'velocity-pa-title');
  xlab('R [arcsec]',158,1073,13,'velocity-pa-x-axis-title');
  ylab('Velocity [km/s]',10,955,12,'velocity-pa-y-axis-title');
  const lg=el('g',{},svg,'velocity-pa-legend',false);
  el('rect',{x:37,y:862,width:115,height:22,fill:'#fff',stroke:'#777','stroke-width':1.1},lg,'legend-frame',false);
  [['Hb','#2a6a2a',868],['[O III]','#e05020',874.5],['Ha,[O I],[N II],[S II]','#111',881]].forEach(it=>{
    for(let k=0;k<4;k++)el('circle',{cx:48+k*2.5,cy:it[2]-2,r:0.9,fill:it[1]},lg,'legend-marker',false);
    txt(it[0],71,it[2]+0.5,{'font-size':6.5,fill:'#222'},lg,'legend-entry');});
})();
(function(){
  const ax=makeAxes('density-pa-axes',[338,857,589,1053],[-2.84,3],[0,1500]);
  denR.forEach((r,i)=>{const x=ax.sx(r),y1=ax.sy(denHi[i]),y2=ax.sy(denLo[i]);
    el('path',{d:'M'+x+','+y1+'V'+y2+'M'+(x-2.5)+','+y1+'h5M'+(x-2.5)+','+y2+'h5',stroke:'#aaa','stroke-width':0.9,fill:'none'},ax.g,'density-error-bar',false);});
  denR.forEach((r,i)=>{el('circle',{cx:ax.sx(r),cy:ax.sy(denV[i]),r:2.4,fill:'#111'},ax.g,'density-point',false);});
  frame(ax,range(-2,3,1),range(0,1400,200),0,0);
  title('Mrk 348- Electron density PA=25.0',463,852,216,12,'density-pa-title');
  xlab('R [arcsec]',463,1073,13,'density-pa-x-axis-title');
  ylab('Density [cm^-3]',311,955,12,'density-pa-y-axis-title');
})();
const hoItems=[['r > 3"','m','#777'],['1" < r < 3"','m','#3a9a3a'],['r < 1"','m','#d09060'],['Ho et al. 1997','line','#7788ff','4,2']];
(function(){
  const ax=makeAxes('oiii-hb-axes',[642,857,894,1053],[-0.1,7],[-0.6,1.41]);
  hline(ax,o3hbHo[0],'#aab0ff','5,3','ho-1997-line');
  plus(ax,o3hbOut,'#8a8a8a','r-gt-3-points');
  plus(ax,o3hbMid,'#3a7a3a','r-1-3-points');
  plus(ax,o3hbIn,'#b03010','r-lt-1-points');
  frame(ax,range(0,7,1),range(-0.5,1.0,0.5),0,1);
  txt('SEYFERT',845,923,{'font-size':8,fill:'#222','text-anchor':'middle'},svg,'seyfert-label');
  txt('LINER',859,976,{'font-size':8,fill:'#222','text-anchor':'middle'},svg,'liner-label');
  legend(802,862,889,889,hoItems,'oiii-hb-legend');
  errBox(652,1002,688,1050,'Median','errors:',1031,[[662,'#d01010',1.5,1.5,'#d09060'],[670,'#111',3,3,'#8fd08f'],[681,'#111',6,8,'#aaa']],'oiii-hb-median-errors');
  errBox(696,1002,730,1050,'Max.','errors:',1031,[[703,'#d01010',2,2,'#d09060'],[713,'#111',9,9,'#8fd08f'],[724,'#111',10,11,'#aaa']],'oiii-hb-max-errors');
  title('Mrk 348 - Diagnostic ratio [O III] 5007 / Hb',765,852,258,12,'oiii-hb-title');
  xlab('R [arcsec]',768,1073,13,'oiii-hb-x-axis-title');
  ylab('log ( [O III] 5007 / H_beta )',621,955,11,'oiii-hb-y-axis-title',170);
})();
// ---------------- ROW 5 ----------------
(function(){
  const ax=makeAxes('oi-ha-axes',[32,1102,284,1297],[-0.04,3.5],[-1.15,0.05]);
  hline(ax,o1Liner[0],'#1030ff','1.2,1','liner-line');
  hline(ax,o1Seyf[0],'#1030ff','5,2,1,2','seyfert-line');
  plus(ax,o1Out,'#8a8a8a','r-gt-3-points');
  plus(ax,o1Mid,'#3a7a3a','r-1-3-points');
  plus(ax,o1In,'#b03010','r-lt-1-points');
  [[3.3,o1Liner[0],-0.63],[3.4,o1Seyf[0],-0.63]].forEach(a=>{const x=ax.sx(a[0]),y1=ax.sy(a[1]),y2=ax.sy(a[2]);
    el('line',{x1:x,y1:y1,x2:x,y2:y2+4,stroke:'#1030ff','stroke-width':2},ax.g,'limit-arrow',false);
    el('path',{d:'M'+(x-2.5)+','+(y2+6)+'L'+x+','+y2+'L'+(x+2.5)+','+(y2+6)+'Z',fill:'#1030ff'},ax.g,'limit-arrow-head',false);});
  frame(ax,range(0,3.5,0.5),range(-1.0,0.0,0.2),1,1);
  txt('LINER',254,1231,{'font-size':8,fill:'#222','text-anchor':'middle'},svg,'liner-label');
  txt('SEYFERT',255,1280,{'font-size':8,fill:'#222','text-anchor':'middle'},svg,'seyfert-label');
  legend(37,1255,176,1293,[['r > 3"','m','#777'],['1" < r < 3"','m','#3a9a3a'],['r < 1"','m','#d09060'],['Ho et al. 1997 (Seyferts)','line','#1030ff','4,2'],['Ho et al. 1997 (LINERs)','line','#1030ff','1.2,1']],'oi-ha-legend');
  errBox(42,1107,79,1160,'Median','errors:',1142,[[50,'#d01010',1.5,1.5,'#d09060'],[64,'#111',7,7,'#8fd08f']],'oi-ha-median-errors');
  errBox(85,1107,121,1160,'Max.','errors:',1142,[[93,'#d01010',2,2,'#d09060'],[107,'#111',14,15,'#8fd08f']],'oi-ha-max-errors');
  title('Mrk 348 - Diagnostic ratio [O I] 6300 / Ha',159,1097,256,12,'oi-ha-title');
  xlab('R [arcsec]',158,1317,13,'oi-ha-x-axis-title');
  ylab('log ( [O I] 6300 / H_alpha )',9,1200,11,'oi-ha-y-axis-title',170);
})();
(function(){
  const ax=makeAxes('nii-ha-axes',[337,1102,592,1297],[0,6],[-0.61,0.2]);
  hline(ax,n2Ho[0],'#2080ff','5,3','ho-1997-line');
  plus(ax,n2Out,'#8a8a8a','r-gt-3-points');
  plus(ax,n2Mid,'#3a7a3a','r-1-3-points');
  plus(ax,n2In,'#b03010','r-lt-1-points');
  frame(ax,range(0,6,1),range(-0.6,0.1,0.1),0,1);
  txt('AGN',557,1172,{'font-size':8,fill:'#222','text-anchor':'middle'},svg,'agn-label');
  txt('H II',563,1285,{'font-size':8,fill:'#222','text-anchor':'middle'},svg,'hii-label');
  legend(497,1105,584,1133,hoItems,'nii-ha-legend');
  errBox(345,1211,379,1292,'Median','errors:',1263,[[353,'#d01010',1.5,1.5,'#d09060'],[362,'#111',7,8,'#8fd08f'],[370,'#111',18,17,'#aaa']],'nii-ha-median-errors');
  errBox(383,1211,418,1292,'Max.','errors:',1263,[[391,'#d01010',1.5,1.5,'#d09060'],[400,'#111',31,32,'#8fd08f'],[408,'#111',36,38,'#aaa']],'nii-ha-max-errors');
  title('Mrk 348 - Diagnostic ratio [N II] 6583 / Ha',464,1097,256,12,'nii-ha-title');
  xlab('R [arcsec]',464,1317,13,'nii-ha-x-axis-title');
  ylab('log ( [N II] 6583 / H_alpha )',313,1200,11,'nii-ha-y-axis-title',170);
})();
(function(){
  const ax=makeAxes('sii-ha-axes',[642,1102,894,1297],[0,6],[-0.55,0.35]);
  hline(ax,s2Ho[0],'#2080ff','5,3','ho-1997-line');
  plus(ax,s2Out,'#8a8a8a','r-gt-3-points');
  plus(ax,s2Mid,'#3a7a3a','r-1-3-points');
  plus(ax,s2In,'#b03010','r-lt-1-points');
  frame(ax,range(0,6,1),range(-0.5,0.3,0.1),0,1);
  txt('AGN',864,1250,{'font-size':8,fill:'#222','text-anchor':'middle'},svg,'agn-label');
  txt('H II',864,1280,{'font-size':8,fill:'#222','text-anchor':'middle'},svg,'hii-label');
  legend(802,1104,889,1133,hoItems,'sii-ha-legend');
  errBox(650,1207,688,1291,'Median','errors:',1258,[[657,'#d01010',2,2,'#d09060'],[669,'#111',18,19,'#8fd08f'],[681,'#111',35,34,'#aaa']],'sii-ha-median-errors');
  errBox(692,1207,730,1291,'Max.','errors:',1258,[[699,'#d01010',6,6,'#d09060'],[711,'#111',41,41,'#8fd08f'],[724,'#111',45,45,'#aaa']],'sii-ha-max-errors');
  title('Mrk 348 - Diagnostic ratio [S II] 6717,6731 / Ha',758,1097,285,12,'sii-ha-title');
  xlab('R [arcsec]',768,1317,13,'sii-ha-x-axis-title');
  ylab('log ( [S II] 6717 + [S II] 6731 / H_alpha )',616,1198,10,'sii-ha-y-axis-title',195);
})();
</script>
</body></html>
